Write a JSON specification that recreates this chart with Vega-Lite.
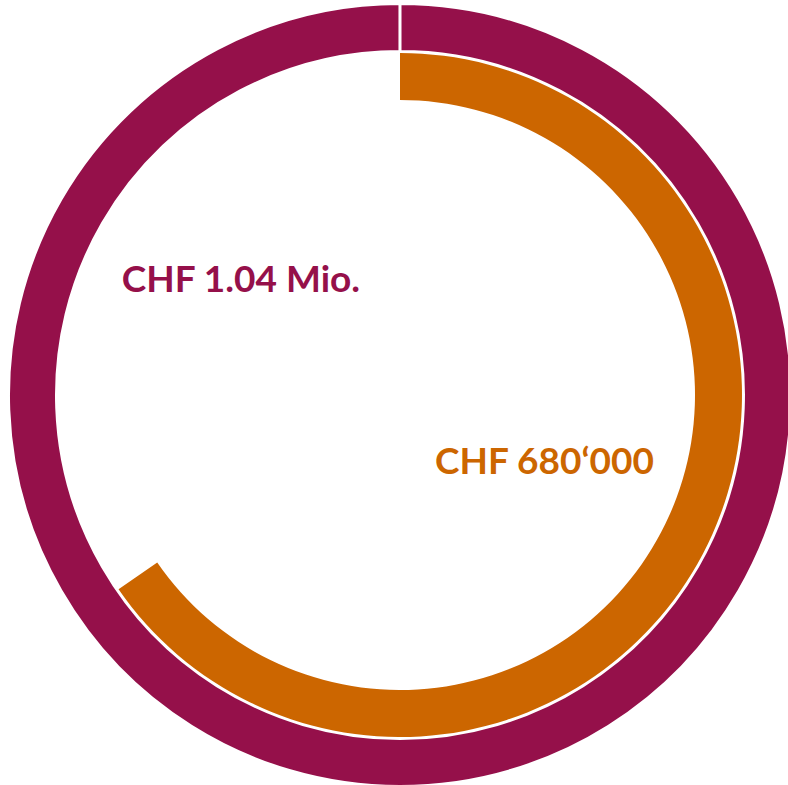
{
  "$schema": "https://vega.github.io/schema/vega-lite/v6.json",
  "width": 776,
  "height": 780,
  "padding": {"left": 12, "top": 5, "right": 0, "bottom": 0},
  "autosize": {"type": "none"},
  "background": "white",
  "view": {"stroke": null},
  "data": {
    "values": [
      {"segment": "Gesamt", "label": "CHF 1.04 Mio.", "start": 0, "end": 1040000},
      {"segment": "Anteil", "label": "CHF 680‘000", "start": 0, "end": 680000}
    ]
  },
  "encoding": {
    "color": {
      "field": "segment",
      "type": "nominal",
      "scale": {"domain": ["Gesamt", "Anteil"], "range": ["#95104A", "#CC6600"]},
      "legend": null
    }
  },
  "layer": [
    {
      "transform": [{"filter": "datum.segment === 'Gesamt'"}],
      "mark": {"type": "arc", "radius": 391.5, "radius2": 343.5, "stroke": "white", "strokeWidth": 3},
      "encoding": {
        "theta": {"field": "start", "type": "quantitative", "scale": {"domain": [0, 1040000], "range": [0, 6.2831]}},
        "theta2": {"field": "end"}
      }
    },
    {
      "transform": [{"filter": "datum.segment === 'Anteil'"}],
      "mark": {"type": "arc", "radius": 342, "radius2": 295},
      "encoding": {
        "theta": {"field": "start", "type": "quantitative", "scale": {"domain": [0, 1040000], "range": [0, 6.2831]}},
        "theta2": {"field": "end"}
      }
    },
    {
      "transform": [{"filter": "datum.segment === 'Gesamt'"}],
      "mark": {"type": "text", "theta": 5.334, "radius": 195.6, "font": "Lato", "fontWeight": "bold", "fontSize": 37, "align": "center", "baseline": "middle"},
      "encoding": {"text": {"field": "label"}}
    },
    {
      "transform": [{"filter": "datum.segment === 'Anteil'"}],
      "mark": {"type": "text", "theta": 2.011, "radius": 159.7, "font": "Lato", "fontWeight": "bold", "fontSize": 37, "align": "center", "baseline": "middle"},
      "encoding": {"text": {"field": "label"}}
    }
  ]
}
